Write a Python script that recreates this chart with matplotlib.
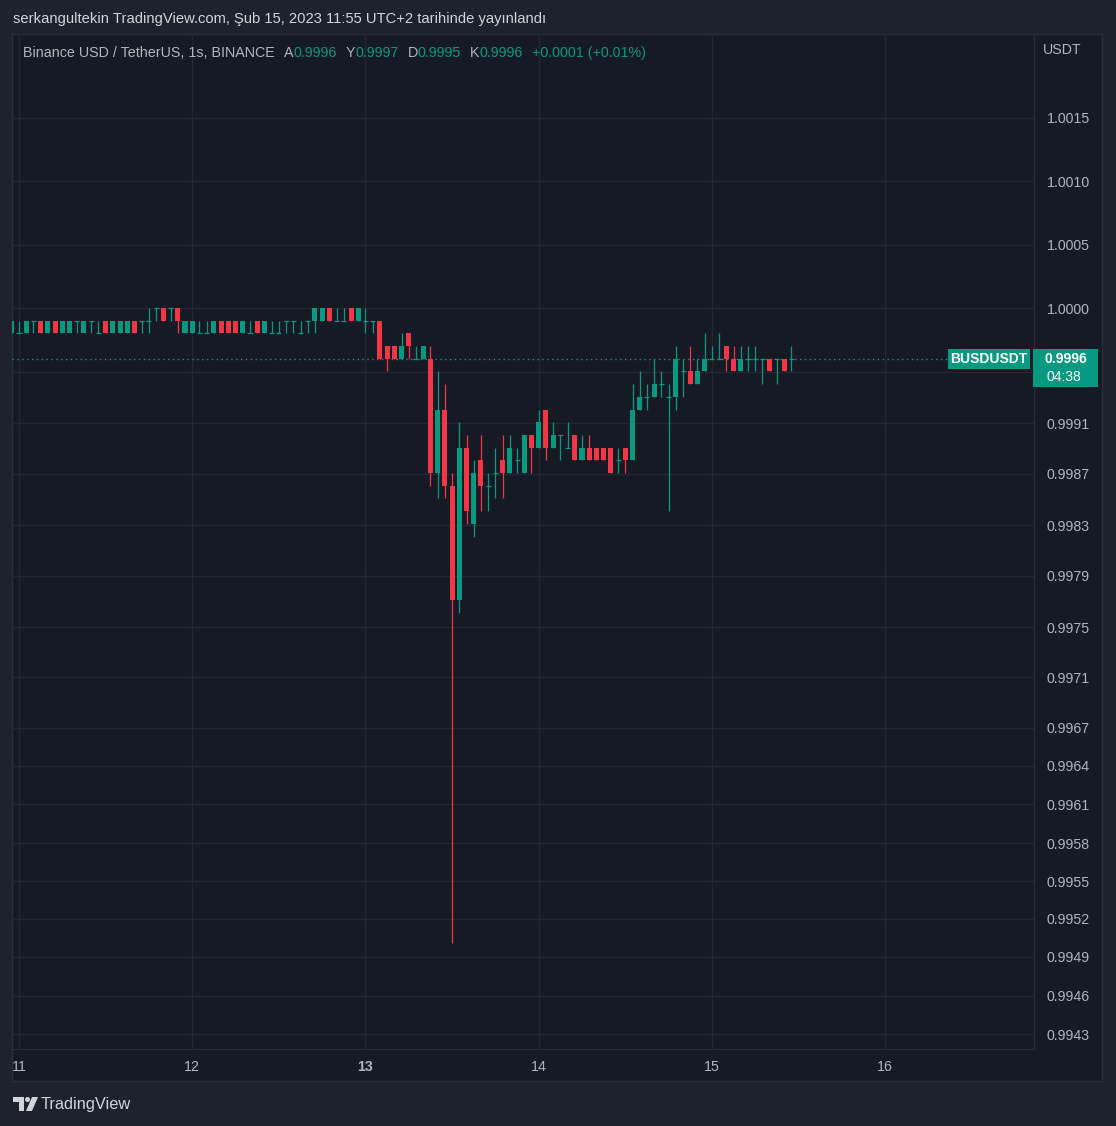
import numpy as np
import matplotlib
matplotlib.use('Agg')
import matplotlib.pyplot as plt
from matplotlib.patches import Rectangle, Polygon, Circle

W, H = 1116, 1126

# hourly BUSD/USDT candles, first one is Feb 10 23:00; prices in units of 0.0001 USDT
first_hour = -1
opens_e4 = [
    9998, 9998, 9998, 9999, 9999, 9998, 9999, 9998, 9998, 9999, 9998, 9999, 9998,
    9999, 9998, 9998, 9998, 9999, 9999, 9999, 10000, 10000, 10000, 10000, 9998,
    9998, 9998, 9998, 9998, 9999, 9999, 9999, 9998, 9998, 9999, 9998, 9998, 9998,
    9999, 9999, 9998, 9999, 9999, 9999, 10000, 9999, 9999, 10000, 9999, 9999, 9999,
    9999, 9997, 9997, 9996, 9998, 9996, 9996, 9996, 9987, 9992, 9986, 9977, 9989,
    9983, 9988, 9986, 9987, 9988, 9987, 9988, 9987, 9990, 9989, 9992, 9989, 9990,
    9989, 9990, 9988, 9989, 9989, 9989, 9989, 9988, 9989, 9988, 9992, 9993, 9993,
    9994, 9993, 9993, 9995, 9995, 9994, 9995, 9996, 9996, 9997, 9996, 9995, 9996,
    9996, 9996, 9996, 9996, 9996, 9996,
]
highs_e4 = [
    9999, 9999, 9999, 9999, 9999, 9999, 9999, 9999, 9999, 9999, 9999, 9999, 9999,
    9999, 9999, 9999, 9999, 9999, 9999, 10000, 10000, 10000, 10000, 10000, 9999,
    9999, 9999, 9999, 9999, 9999, 9999, 9999, 9999, 9999, 9999, 9999, 9999, 9999,
    9999, 9999, 9999, 9999, 10000, 10000, 10000, 10000, 10000, 10000, 10000, 10000, 9999,
    9999, 9997, 9997, 9998, 9998, 9997, 9997, 9997, 9995, 9994, 9987, 9991, 9990,
    9988, 9990, 9987, 9989, 9990, 9990, 9989, 9990, 9990, 9992, 9992, 9991, 9990,
    9991, 9990, 9990, 9990, 9989, 9989, 9989, 9989, 9989, 9994, 9995, 9994, 9996,
    9995, 9994, 9997, 9996, 9997, 9996, 9998, 9997, 9998, 9997, 9997, 9997, 9997,
    9997, 9996, 9996, 9996, 9996, 9997,
]
lows_e4 = [
    9998, 9998, 9998, 9998, 9998, 9998, 9998, 9998, 9998, 9998, 9998, 9998, 9998,
    9998, 9998, 9998, 9998, 9998, 9998, 9998, 9999, 9999, 9999, 9998, 9998,
    9998, 9998, 9998, 9998, 9998, 9998, 9998, 9998, 9998, 9998, 9998, 9998, 9998,
    9998, 9998, 9998, 9998, 9998, 9999, 9999, 9999, 9999, 9999, 9999, 9998, 9998,
    9996, 9995, 9996, 9996, 9996, 9996, 9996, 9986, 9985, 9985, 9950, 9976, 9983,
    9982, 9984, 9984, 9985, 9985, 9987, 9987, 9987, 9987, 9989, 9988, 9989, 9988,
    9989, 9988, 9988, 9988, 9988, 9988, 9987, 9987, 9987, 9988, 9992, 9992, 9993,
    9993, 9984, 9992, 9993, 9994, 9994, 9995, 9996, 9996, 9995, 9995, 9995, 9995,
    9995, 9994, 9995, 9994, 9995, 9995,
]
closes_e4 = [
    9999, 9998, 9999, 9999, 9998, 9999, 9998, 9999, 9999, 9999, 9999, 9999, 9998,
    9998, 9999, 9999, 9999, 9998, 9999, 9999, 10000, 9999, 10000, 9999, 9999,
    9999, 9998, 9998, 9999, 9998, 9998, 9998, 9999, 9998, 9998, 9999, 9998, 9998,
    9999, 9999, 9998, 9999, 10000, 10000, 9999, 9999, 9999, 9999, 10000, 9999, 9999,
    9996, 9996, 9996, 9997, 9997, 9996, 9997, 9987, 9992, 9986, 9977, 9989, 9984,
    9987, 9986, 9986, 9987, 9987, 9989, 9988, 9990, 9989, 9991, 9989, 9990, 9990,
    9989, 9988, 9989, 9988, 9988, 9988, 9987, 9988, 9988, 9992, 9993, 9993, 9994,
    9994, 9993, 9996, 9995, 9994, 9995, 9996, 9996, 9996, 9996, 9995, 9996, 9996,
    9996, 9996, 9995, 9996, 9995, 9996,
]

day_hours = [0, 24, 48, 72, 96, 120]
day_labels = ['11', '12', '13', '14', '15', '16']

price_ticks = [1.0015, 1.0010, 1.0005, 1.0000, 0.999496, 0.999094, 0.998693,
               0.998291, 0.997890, 0.997488, 0.997094, 0.996693, 0.996394,
               0.996094, 0.995787, 0.995488, 0.995189, 0.994890, 0.994583, 0.994283]
price_labels = ['1.0015', '1.0010', '1.0005', '1.0000', '', '0.9991', '0.9987',
                '0.9983', '0.9979', '0.9975', '0.9971', '0.9967', '0.9964',
                '0.9961', '0.9958', '0.9955', '0.9952', '0.9949', '0.9946', '0.9943']
last_price = 0.9996

legend_title = 'Binance USD / TetherUS, 1s, BINANCE'
ohlc_keys = ['A', 'Y', 'D', 'K']
ohlc_vals = ['0.9996', '0.9997', '0.9995', '0.9996']
change_txt = '+0.0001 (+0.01%)'

UP = '#089981'
DOWN = '#F23645'
BG_OUT = '#1e222d'
BG = '#161a25'
GRID = '#232734'
TXT = '#b2b5be'
FONT = 'Liberation Sans'

plt.rcParams['font.family'] = [FONT, 'DejaVu Sans']

fig = plt.figure(figsize=(W / 100, H / 100), dpi=100, facecolor=BG_OUT)

# background panel (chart + axes area)
bg = fig.add_axes([0, 0, 1, 1], zorder=0)
bg.set_xlim(0, W)
bg.set_ylim(H, 0)
bg.axis('off')
bg.add_patch(Rectangle((12, 34), 1090, 1047, facecolor=BG, edgecolor='#2a2e39', lw=1))

# main price axes, pixel box 12..1034 x 34..1049
x0, x1, y0, y1 = 12, 1034, 34, 1049
ax = fig.add_axes([x0 / W, 1 - y1 / H, (x1 - x0) / W, (y1 - y0) / H], zorder=1)
ax.set_facecolor('none')

o = np.array(opens_e4) / 1e4
hi = np.array(highs_e4) / 1e4
lo = np.array(lows_e4) / 1e4
c = np.array(closes_e4) / 1e4
hours = first_hour + np.arange(len(o))
cols = np.where(c >= o, UP, DOWN)

ax.vlines(hours, lo, hi, colors=cols, lw=0.9, zorder=3)
body = c != o
ax.bar(hours[body], (c - o)[body], bottom=o[body], width=0.7, color=cols[body], lw=0, zorder=4)
ax.hlines(o[~body], hours[~body] - 0.35, hours[~body] + 0.35, colors=cols[~body], lw=0.9, zorder=4)

# pixel -> data scales (7.218 px per hour, 127000 px per USDT)
px_hour, px_price = 7.218, 127000.0
ax.set_xlim((x0 - 19) / px_hour, (x1 - 19) / px_hour)
ax.set_ylim(1.0 - (y1 - 308) / px_price, 1.0 + (308 - y0) / px_price)

ax.axhline(last_price, xmax=(948 - x0) / (x1 - x0), color=UP, lw=1,
           linestyle=(0, (1, 2.5)), zorder=2)

ax.yaxis.tick_right()
ax.set_yticks(price_ticks, price_labels)
ax.set_xticks(day_hours, day_labels)
ax.tick_params(axis='y', length=0, pad=9, labelcolor=TXT, labelsize=10.2)
ax.tick_params(axis='x', length=0, pad=8, labelcolor=TXT, labelsize=10.2)
ax.get_xticklabels()[2].set_fontweight('bold')
ax.grid(True, color=GRID, lw=1)
ax.set_axisbelow(True)
for s in ['top', 'left']:
    ax.spines[s].set_visible(False)
for s in ['right', 'bottom']:
    ax.spines[s].set_color('#2a2e39')

# overlay: header, legend, tags, logo
ov = fig.add_axes([0, 0, 1, 1], zorder=3)
ov.set_xlim(0, W)
ov.set_ylim(H, 0)
ov.axis('off')
ov.patch.set_visible(False)

ov.text(13, 19, 'serkangultekin TradingView.com, Şub 15, 2023 11:55 UTC+2 tarihinde yayınlandı',
        color='#d1d4dc', fontsize=10.6, va='center', ha='left')

# legend line, pieces placed one after another
fig.canvas.draw()
rend = fig.canvas.get_renderer()
pieces = [(legend_title, TXT, 9)]
for k, v in zip(ohlc_keys, ohlc_vals):
    pieces += [(k, TXT, 0), (v, UP, 9)]
pieces.append((change_txt, UP, 0))
lx = 23
for txt, col, gap in pieces:
    t = ov.text(lx, 53, txt, color=col, fontsize=10.3, va='center', ha='left')
    lx += t.get_window_extent(rend).width + gap

ov.text(1062, 50, 'USDT', color=TXT, fontsize=10.2, va='center', ha='center')

ov.add_patch(Rectangle((948, 349), 82, 20, facecolor=UP, lw=0))
ov.text(989, 359, 'BUSDUSDT', color='white', fontsize=10, fontweight='bold', ha='center', va='center')
ov.add_patch(Rectangle((1033, 349), 65, 38, facecolor=UP, lw=0))
ov.text(1066, 359, '%.4f' % last_price, color='white', fontsize=10, fontweight='bold',
        ha='center', va='center')
ov.text(1064, 377, '04:38', color='white', fontsize=10, ha='center', va='center')

logo = '#d1d4dc'
ov.add_patch(Polygon([(13, 1097), (24, 1097), (24, 1111), (19, 1111), (19, 1102), (13, 1102)],
                     closed=True, facecolor=logo, lw=0))
ov.add_patch(Circle((27.5, 1099.5), 2.5, facecolor=logo, lw=0))
ov.add_patch(Polygon([(32, 1097), (38, 1097), (32, 1111), (26, 1111)], closed=True,
                     facecolor=logo, lw=0))
ov.text(41, 1104, 'TradingView', color=logo, fontsize=11.8, va='center', ha='left')

fig.savefig('out.png', dpi=100, facecolor=BG_OUT)
